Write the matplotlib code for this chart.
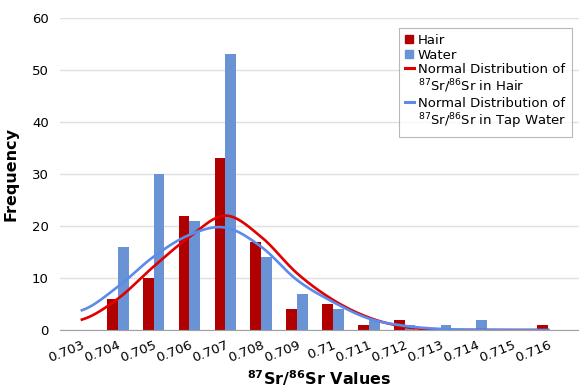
import matplotlib
matplotlib.use("Agg")
import matplotlib.pyplot as plt
import numpy as np
from matplotlib.lines import Line2D

# category labels on the x axis
categories = ['0.703', '0.704', '0.705', '0.706', '0.707', '0.708', '0.709',
              '0.71', '0.711', '0.712', '0.713', '0.714', '0.715', '0.716']

# bar frequencies
hair = [0, 6, 10, 22, 33, 17, 4, 5, 1, 2, 0, 0, 0, 1]
water = [0, 16, 30, 21, 53, 14, 7, 4, 2, 1, 1, 2, 0, 0]

# fitted normal curves, read at each category
hair_norm = [2.0, 6.0, 12.2, 17.9, 22.0, 17.9, 10.9, 5.8, 2.4, 0.6, 0.05, 0, 0, 0]
water_norm = [3.8, 8.3, 14.1, 18.3, 19.7, 16.0, 9.6, 5.4, 2.2, 0.8, 0.2, 0.05, 0, 0]

HAIR_BAR = '#B00000'
WATER_BAR = '#6A93D6'
HAIR_LINE = '#E00000'
WATER_LINE = '#5B8BEB'


def smooth(y, n=20):
    # catmull-rom style smoothing between the category points (like excel's smoothed line)
    y = np.asarray(y, dtype=float)
    x = np.arange(len(y))
    yp = np.concatenate([[y[0]], y, [y[-1]]])
    xs, ys = [], []
    for i in range(len(y) - 1):
        p0, p1, p2, p3 = yp[i], yp[i + 1], yp[i + 2], yp[i + 3]
        t = np.linspace(0, 1, n, endpoint=False)
        m1 = (p2 - p0) / 2
        m2 = (p3 - p1) / 2
        h00 = 2 * t**3 - 3 * t**2 + 1
        h10 = t**3 - 2 * t**2 + t
        h01 = -2 * t**3 + 3 * t**2
        h11 = t**3 - t**2
        xs.append(x[i] + t)
        ys.append(h00 * p1 + h10 * m1 + h01 * p2 + h11 * m2)
    xs.append([x[-1]])
    ys.append([y[-1]])
    return np.concatenate(xs), np.clip(np.concatenate(ys), 0, None)


plt.rcParams['font.family'] = 'DejaVu Sans'
plt.rcParams['mathtext.default'] = 'regular'

fig = plt.figure(figsize=(5.79, 3.92), dpi=100)
ax = fig.add_axes([60 / 579, 62 / 392, 519 / 579, 312 / 392])

x = np.arange(len(categories))
w = 0.3
ax.bar(x - w / 2, hair, width=w, color=HAIR_BAR, zorder=2)
ax.bar(x + w / 2, water, width=w, color=WATER_BAR, zorder=2)

sx, sy = smooth(hair_norm)
ax.plot(sx, sy, color=HAIR_LINE, lw=1.9, zorder=3)
sx, sy = smooth(water_norm)
ax.plot(sx, sy, color=WATER_LINE, lw=1.9, zorder=3)

ax.set_xlim(-0.61, 13.86)
ax.set_ylim(0, 60)
ax.set_yticks(range(0, 61, 10))
ax.set_xticks(x)
ax.set_xticklabels(categories, rotation=22, ha='right', rotation_mode='anchor')
ax.tick_params(axis='x', length=0, labelsize=9.5, pad=6)
ax.tick_params(axis='y', length=0, labelsize=9.5, pad=8)
ax.grid(axis='y', color='#E0E0E0', lw=1, zorder=0)
for s in ['top', 'right', 'left']:
    ax.spines[s].set_visible(False)
ax.spines['bottom'].set_color('#A0A0A0')
ax.spines['bottom'].set_zorder(4)

ax.set_ylabel('Frequency', fontsize=11.5, fontweight='bold', labelpad=10)
ax.set_xlabel(r'$^{\mathbf{87}}$Sr/$^{\mathbf{86}}$Sr Values', fontsize=11.5,
              fontweight='bold', labelpad=3)

# two-line labels are split so the line key sits on the first line, as in the original
blank = Line2D([], [], ls='', marker='')
handles = [
    Line2D([], [], marker='s', ls='', color=HAIR_BAR, markersize=6),
    Line2D([], [], marker='s', ls='', color=WATER_BAR, markersize=6),
    Line2D([], [], color=HAIR_LINE, lw=2.2),
    blank,
    Line2D([], [], color=WATER_LINE, lw=2.2),
    blank,
]
labels = ['Hair', 'Water',
          'Normal Distribution of', '$^{87}$Sr/$^{86}$Sr in Hair',
          'Normal Distribution of', '$^{87}$Sr/$^{86}$Sr in Tap Water']
leg = fig.legend(handles, labels, loc='upper right', bbox_to_anchor=(572 / 579, 1 - 28 / 392),
                 borderaxespad=0, fontsize=9.5, frameon=True, fancybox=False,
                 handlelength=0.7, handletextpad=0.3, labelspacing=0.12, borderpad=0.45)
leg.get_frame().set_edgecolor('#A6A6A6')
leg.get_frame().set_linewidth(0.8)

fig.savefig('out.png', dpi=100)
